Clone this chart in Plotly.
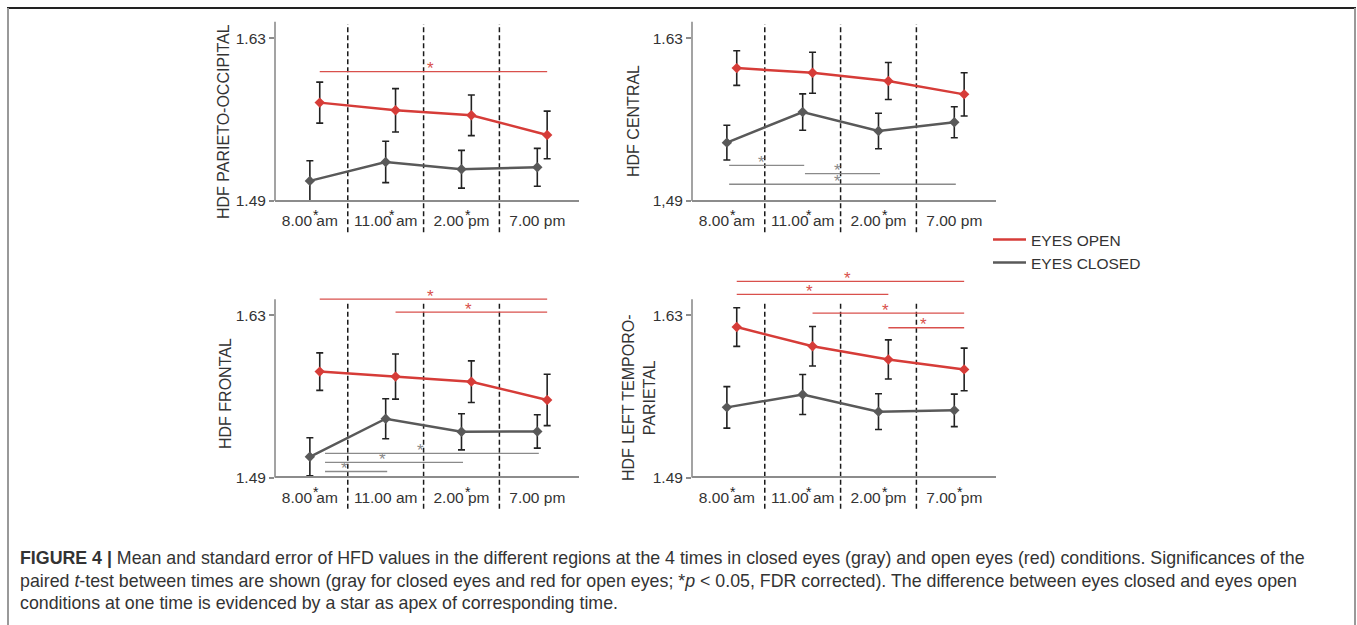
import plotly.graph_objects as go

# ---------------- data ----------------
TIMES = ["8.00 am", "11.00 am", "2.00 pm", "7.00 pm"]
REGIONS = ["HDF PARIETO-OCCIPITAL", "HDF CENTRAL", "HDF FRONTAL", "HDF LEFT TEMPORO-<br>PARIETAL"]
SERIES = ["EYES OPEN", "EYES CLOSED"]

Y_TICK_VALS = [1.49, 1.63]
Y_TICK_TEXT = [["1.49", "1.63"], ["1,49", "1.63"], ["1.49", "1.63"], ["1.49", "1.63"]]

# parieto-occipital
po_open = [1.5745, 1.5679, 1.5636, 1.5467]
po_open_se = [0.0176, 0.0186, 0.0175, 0.0205]
po_closed = [1.5072, 1.5235, 1.5172, 1.5189]
po_closed_se = [0.0173, 0.0178, 0.0162, 0.0163]
# central
ce_open = [1.6042, 1.6002, 1.5931, 1.5816]
ce_open_se = [0.0149, 0.0176, 0.0159, 0.0186]
ce_closed = [1.5401, 1.5664, 1.5501, 1.5576]
ce_closed_se = [0.0150, 0.0156, 0.0153, 0.0133]
# frontal
fr_open = [1.5815, 1.5772, 1.5728, 1.5570]
fr_open_se = [0.0162, 0.0195, 0.0180, 0.0222]
fr_closed = [1.5079, 1.5408, 1.5295, 1.5298]
fr_closed_se = [0.0165, 0.0173, 0.0156, 0.0144]
# left temporo-parietal
tp_open = [1.6200, 1.6034, 1.5920, 1.5834]
tp_open_se = [0.0167, 0.0171, 0.0169, 0.0184]
tp_closed = [1.5506, 1.5617, 1.5469, 1.5480]
tp_closed_se = [0.0179, 0.0173, 0.0154, 0.0140]

# eyes-open vs eyes-closed difference at each time (star above time label)
po_diff = [1, 1, 1, 0]
ce_diff = [1, 1, 1, 0]
fr_diff = [1, 0, 1, 0]
tp_diff = [1, 1, 1, 1]

# significant paired t-tests between times: (from_time, to_time)
po_sig_open = [(0, 3)]
po_sig_closed = []
ce_sig_open = []
ce_sig_closed = [(0, 1), (1, 2), (0, 3)]
fr_sig_open = [(0, 3), (1, 3)]
fr_sig_closed = [(0, 3), (0, 2), (0, 1)]
tp_sig_open = [(0, 3), (0, 2), (1, 3), (2, 3)]
tp_sig_closed = []

# ---------------- layout / style ----------------
W, H = 1357, 625
FONT = "Liberation Sans, Arial, sans-serif"
RED = "#d63c38"
GRAY = "#595959"
RED_SIG = "#d9504c"
GRAY_SIG = "#8a8a8a"
AXC = "#8c8c8c"
TXT = "#333333"

def px(x):
    return x / W

def py(y):
    return 1 - y / H

# vertical levels of significance bars (per panel, in y units)
po_lv_open, po_lv_closed = [1.6011], []
ce_lv_open, ce_lv_closed = [], [1.5206, 1.5135, 1.5043]
fr_lv_open, fr_lv_closed = [1.6441, 1.6329], [1.5108, 1.5030, 1.4952]
tp_lv_open, tp_lv_closed = [1.6594, 1.6483, 1.6320, 1.6194], []

panels = [
    dict(o=po_open, ose=po_open_se, c=po_closed, cse=po_closed_se, diff=po_diff,
         so=po_sig_open, sc=po_sig_closed, lo=po_lv_open, lc=po_lv_closed,
         xd=(275, 579), yd=(9, 241.6), yr=(1.455, 1.655), cpad=0.0,
         tx=223, ty=121),
    dict(o=ce_open, ose=ce_open_se, c=ce_closed, cse=ce_closed_se, diff=ce_diff,
         so=ce_sig_open, sc=ce_sig_closed, lo=ce_lv_open, lc=ce_lv_closed,
         xd=(692, 996), yd=(9, 241.6), yr=(1.455, 1.655), cpad=0.03,
         tx=633, ty=121),
    dict(o=fr_open, ose=fr_open_se, c=fr_closed, cse=fr_closed_se, diff=fr_diff,
         so=fr_sig_open, sc=fr_sig_closed, lo=fr_lv_open, lc=fr_lv_closed,
         xd=(275, 579), yd=(271.5, 518), yr=(1.455, 1.668), cpad=0.2,
         tx=225, ty=394),
    dict(o=tp_open, ose=tp_open_se, c=tp_closed, cse=tp_closed_se, diff=tp_diff,
         so=tp_sig_open, sc=tp_sig_closed, lo=tp_lv_open, lc=tp_lv_closed,
         xd=(692, 996), yd=(271.5, 518), yr=(1.455, 1.668), cpad=0.0,
         tx=639, ty=398),
]

XR = [-0.46, 3.55]
RED_OFF = 0.13
xs = list(range(len(TIMES)))

fig = go.Figure()
shapes = []
annotations = []
layout_axes = {}

for k, p in enumerate(panels):
    s = "" if k == 0 else str(k + 1)
    xa, ya = "x" + s, "y" + s
    # traces
    fig.add_trace(go.Scatter(
        x=xs, y=p["c"], mode="lines+markers", xaxis=xa, yaxis=ya, showlegend=False,
        name=SERIES[1],
        line=dict(color=GRAY, width=2.5),
        marker=dict(symbol="diamond", size=8, color=GRAY),
        error_y=dict(type="data", array=p["cse"], color="#222222", thickness=1.6, width=3.5),
    ))
    fig.add_trace(go.Scatter(
        x=[v + RED_OFF for v in xs], y=p["o"], mode="lines+markers", xaxis=xa, yaxis=ya,
        showlegend=False, name=SERIES[0],
        line=dict(color=RED, width=2.5),
        marker=dict(symbol="diamond", size=8, color=RED),
        error_y=dict(type="data", array=p["ose"], color="#222222", thickness=1.6, width=3.5),
    ))

    y0p, y1p = py(p["yd"][1]), py(p["yd"][0])
    r0, r1 = p["yr"]
    pos = y0p + (Y_TICK_VALS[0] - r0) / (r1 - r0) * (y1p - y0p)
    layout_axes["xaxis" + s] = dict(
        domain=[px(p["xd"][0]), px(p["xd"][1])], range=XR, anchor="free", position=pos,
        showline=True, linecolor=AXC, linewidth=1.6, showgrid=False, zeroline=False,
        tickvals=xs, ticktext=TIMES, ticks="", ticklabelstandoff=6,
        tickfont=dict(family=FONT, size=15.5, color=TXT), fixedrange=True,
    )
    layout_axes["yaxis" + s] = dict(
        domain=[y0p, y1p], range=list(p["yr"]), anchor=xa, showline=False,
        showgrid=False, zeroline=False, tickvals=Y_TICK_VALS, ticktext=Y_TICK_TEXT[k],
        ticks="outside", ticklen=5, tickwidth=1.6, tickcolor=AXC,
        tickfont=dict(family=FONT, size=15.5, color=TXT), fixedrange=True,
    )
    # y axis line (only between 1.49 and a little above 1.63)
    shapes.append(dict(type="line", xref=xa + " domain", yref=ya, x0=0, x1=0,
                       y0=Y_TICK_VALS[0], y1=1.644, line=dict(color=AXC, width=1.6)))
    # dashed separators between times
    for b in [0.5, 1.5, 2.5]:
        shapes.append(dict(type="line", xref=xa, yref=ya, x0=b, x1=b, y0=1.463, y1=1.642,
                           layer="below", line=dict(color="#1a1a1a", width=1.5, dash="5px,3px")))
    # significance bars
    for (a, b), lv in zip(p["so"], p["lo"]):
        shapes.append(dict(type="line", xref=xa, yref=ya, x0=a + RED_OFF, x1=b + RED_OFF,
                           y0=lv, y1=lv, layer="below", line=dict(color=RED_SIG, width=1.3)))
        annotations.append(dict(xref=xa, yref=ya, x=(a + b) / 2 + RED_OFF - 0.04, y=lv,
                                text="*", showarrow=False, yanchor="middle", yshift=3,
                                font=dict(family=FONT, size=17, color=RED_SIG)))
    for (a, b), lv in zip(p["sc"], p["lc"]):
        shapes.append(dict(type="line", xref=xa, yref=ya, x0=a + p["cpad"], x1=b + 0.02,
                           y0=lv, y1=lv, layer="below", line=dict(color=GRAY_SIG, width=1.3)))
        annotations.append(dict(xref=xa, yref=ya, x=(a + b) / 2 - 0.04, y=lv,
                                text="*", showarrow=False, yanchor="middle", yshift=3,
                                font=dict(family=FONT, size=17, color=GRAY_SIG)))
    # eyes-open vs closed difference stars under time labels
    for i, d in enumerate(p["diff"]):
        if d:
            annotations.append(dict(xref=xa, yref=ya, x=i + 0.08, y=Y_TICK_VALS[0],
                                    text="*", showarrow=False, yanchor="middle", yshift=-14,
                                    font=dict(family=FONT, size=14, color="#222222")))
    # y title
    annotations.append(dict(xref="paper", yref="paper", x=px(p["tx"]), y=py(p["ty"]),
                            text=REGIONS[k], textangle=-90, showarrow=False,
                            xanchor="center", yanchor="middle",
                            font=dict(family=FONT, size=16, color=TXT)))

# legend entries (one legend per entry for exact spacing)
fig.add_trace(go.Scatter(x=[None], y=[None], mode="lines", name=SERIES[0],
                         line=dict(color=RED, width=2.5), legend="legend"))
fig.add_trace(go.Scatter(x=[None], y=[None], mode="lines", name=SERIES[1],
                         line=dict(color=GRAY, width=2.5), legend="legend2"))

# caption
CAPTION = [
    "<b>FIGURE 4 |</b> Mean and standard error of HFD values in the different regions at the 4 times in closed eyes (gray) and open eyes (red) conditions. Significances of the",
    "paired <i>t</i>-test between times are shown (gray for closed eyes and red for open eyes; *<i>p</i> &lt; 0.05, FDR corrected). The difference between eyes closed and eyes open",
    "conditions at one time is evidenced by a star as apex of corresponding time.",
]
for j, line in enumerate(CAPTION):
    annotations.append(dict(xref="paper", yref="paper", x=px(18), y=py(558 + 22.5 * j),
                            text=line, showarrow=False, xanchor="left", yanchor="middle",
                            font=dict(family=FONT, size=17.8, color=TXT)))

# frame around figure + caption
shapes.append(dict(type="line", xref="paper", yref="paper", x0=px(7), x1=px(1356),
                   y0=py(8), y1=py(8), line=dict(color="#222222", width=2)))
shapes.append(dict(type="line", xref="paper", yref="paper", x0=px(8), x1=px(8),
                   y0=py(8), y1=-0.05, line=dict(color="#999999", width=2)))
shapes.append(dict(type="line", xref="paper", yref="paper", x0=px(1355), x1=px(1355),
                   y0=py(8), y1=-0.05, line=dict(color="#999999", width=2)))

leg_common = dict(xanchor="left", yanchor="middle", bgcolor="rgba(0,0,0,0)",
                  font=dict(family=FONT, size=15.5, color=TXT), itemwidth=33)
fig.update_layout(
    width=W, height=H, margin=dict(l=0, r=0, t=0, b=0),
    paper_bgcolor="white", plot_bgcolor="white",
    font=dict(family=FONT, color=TXT),
    shapes=shapes, annotations=annotations,
    legend=dict(x=px(988), y=py(240), **leg_common),
    legend2=dict(x=px(988), y=py(263), **leg_common),
    **layout_axes,
)

fig.write_html("out.html", config={"displayModeBar": False},
               post_script="document.body.style.margin='0px';")
